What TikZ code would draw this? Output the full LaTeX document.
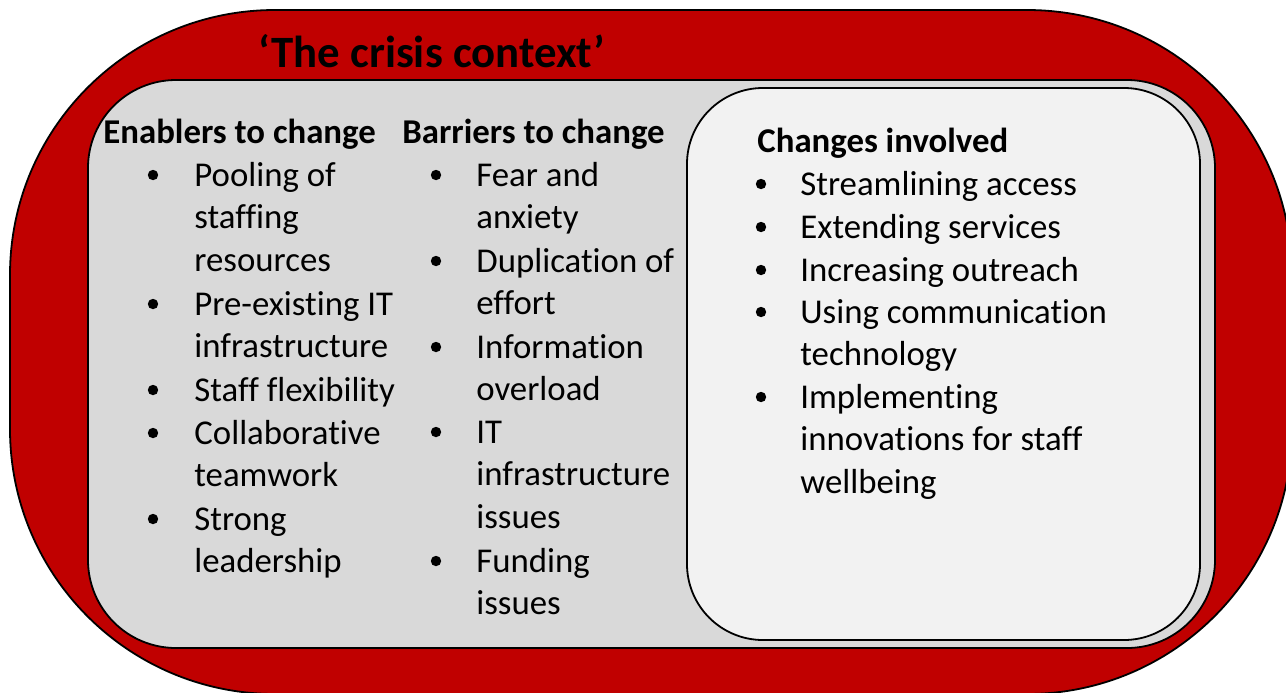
\documentclass[tikz,border=0pt]{standalone}
\usepackage{fontspec}
\setmainfont[Ligatures=NoCommon]{Carlito}
\usetikzlibrary{positioning}
\definecolor{crisisred}{HTML}{C00000}
\definecolor{panelgrey}{HTML}{D9D9D9}
\definecolor{boxwhite}{HTML}{F2F2F2}
\newcommand{\bodyfont}{\fontsize{17.4}{21.4}\selectfont}
\newcommand{\lines}[1]{\parbox[t]{200pt}{\raggedright #1}}

\begin{document}
\begin{tikzpicture}[
        x=0.5pt, y=-0.5pt,
        outline/.style={draw=black, line width=0.9pt},
        heading/.style={anchor=base west, inner sep=0pt, font=\bodyfont\bfseries},
        entry/.style={anchor=base west, inner sep=0pt, font=\bodyfont},
        dot/.style={circle, fill=black, inner sep=0pt, minimum size=5.2pt}
    ]

    \useasboundingbox (0,0) rectangle (1286,692);
    \clip (0,0) rectangle (1286,692);

    % frames
    \draw [outline, fill=crisisred, rounded corners=132.5pt] (10,10) rectangle (1292,694);
    \draw [outline, fill=panelgrey, rounded corners=44pt] (88,80) rectangle (1215,648);
    \draw [outline, fill=boxwhite, rounded corners=38pt] (687,88) rectangle (1200,640);

    \node (title) [anchor=base west, inner sep=0pt, font=\fontsize{22.4}{27}\selectfont\bfseries] at (258,67) {‘The crisis context’};

    % enablers
    \node (enablers) [heading] at (103,143) {Enablers to change};
    \node (en1) [entry] at (194,186) {\lines{Pooling of\\staffing\\resources}};
    \node (en2) [entry] at (194,315) {\lines{Pre-existing IT\\infrastructure}};
    \node (en3) [entry] at (194,401) {\lines{Staff flexibility}};
    \node (en4) [entry] at (194,444) {\lines{Collaborative\\teamwork}};
    \node (en5) [entry] at (194,530) {\lines{Strong\\leadership}};
    \node (en1dot) [dot] at (153,175) {};
    \node (en2dot) [dot] at (153,304) {};
    \node (en3dot) [dot] at (153,390) {};
    \node (en4dot) [dot] at (153,433) {};
    \node (en5dot) [dot] at (153,519) {};

    % barriers
    \node (barriers) [heading] at (402,143) {Barriers to change};
    \node (ba1) [entry] at (476,186) {\lines{Fear and\\anxiety}};
    \node (ba2) [entry] at (476,272) {\lines{Duplication of\\effort}};
    \node (ba3) [entry] at (476,358) {\lines{Information\\overload}};
    \node (ba4) [entry] at (476,443) {\lines{IT\\infrastructure\\issues}};
    \node (ba5) [entry] at (476,572) {\lines{Funding\\issues}};
    \node (ba1dot) [dot] at (436,175) {};
    \node (ba2dot) [dot] at (436,261) {};
    \node (ba3dot) [dot] at (436,347) {};
    \node (ba4dot) [dot] at (436,432) {};
    \node (ba5dot) [dot] at (436,561) {};

    % changes
    \node (changes) [heading] at (757,152) {Changes involved};
    \node (ch1) [entry] at (800,195) {\lines{Streamlining access}};
    \node (ch2) [entry] at (800,238) {\lines{Extending services}};
    \node (ch3) [entry] at (800,281) {\lines{Increasing outreach}};
    \node (ch4) [entry] at (800,323) {\lines{Using communication\\technology}};
    \node (ch5) [entry] at (800,408) {\lines{Implementing\\innovations for staff\\wellbeing}};
    \node (ch1dot) [dot] at (761,184) {};
    \node (ch2dot) [dot] at (761,227) {};
    \node (ch3dot) [dot] at (761,270) {};
    \node (ch4dot) [dot] at (761,312) {};
    \node (ch5dot) [dot] at (761,397) {};

\end{tikzpicture}
\end{document}
